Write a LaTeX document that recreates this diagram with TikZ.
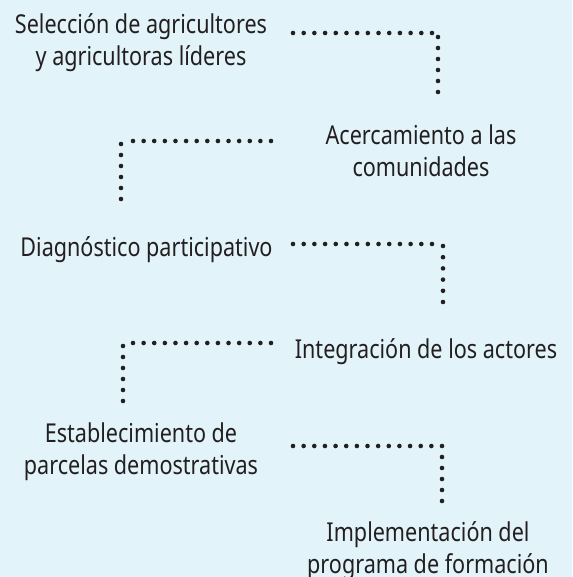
\documentclass[tikz,border=0pt]{standalone}
\usepackage{fontspec}
\setmainfont[FakeStretch=0.83]{Noto Sans}
\usetikzlibrary{calc}
\definecolor{bg}{HTML}{E2F3F9}
\definecolor{ink}{HTML}{231F20}
\tikzset{
  lbl/.style={font=\fontsize{26}{32}\selectfont, text=ink, align=center, inner sep=0pt},
}
\newcommand{\dotrow}[3]{% from, to, intervals
  \foreach \i in {0,...,#3} \fill[ink] ($(#1)!\i/#3!(#2)$) circle (2.3);
}
\begin{document}
\begin{tikzpicture}[x=1pt,y=-1pt]
\fill[bg] (0,0) rectangle (572,577);
\useasboundingbox (0,0) rectangle (572,577);

\node[lbl] (t1) at (141,43) {Selección de agricultores\\y agricultoras líderes};
\node[lbl] (t2) at (421,151) {Acercamiento a las\\comunidades};
\node[lbl] (t3) at (146.5,250) {Diagnóstico participativo};
\node[lbl] (t4) at (426,352) {Integración de los actores};
\node[lbl] (t5) at (141,452) {Establecimiento de\\parcelas demostrativas};
\node[lbl] (t6) at (428,551) {Implementación del\\programa de formación};

% connector 1
\coordinate (a1) at (293,33);
\coordinate (b1) at (432,33);
\coordinate (c1) at (438,37);
\coordinate (d1) at (438,92);
\dotrow{a1}{b1}{13}
\dotrow{c1}{d1}{5}

% connector 2
\coordinate (a2) at (271,141);
\coordinate (b2) at (133,141);
\coordinate (c2) at (121,144);
\coordinate (d2) at (121,199);
\dotrow{a2}{b2}{13}
\dotrow{c2}{d2}{5}

% connector 3
\coordinate (a3) at (293,244);
\coordinate (b3) at (432,244);
\coordinate (c3) at (443,246);
\coordinate (d3) at (443,302);
\dotrow{a3}{b3}{13}
\dotrow{c3}{d3}{5}

% connector 4
\coordinate (a4) at (271,343);
\coordinate (b4) at (133,343);
\coordinate (c4) at (123,346);
\coordinate (d4) at (123,401);
\dotrow{a4}{b4}{13}
\dotrow{c4}{d4}{5}

% connector 5
\coordinate (a5) at (293,446);
\coordinate (b5) at (442,446);
\coordinate (c5) at (442,457);
\coordinate (d5) at (442,501);
\dotrow{a5}{b5}{14}
\dotrow{c5}{d5}{4}
\end{tikzpicture}
\end{document}
